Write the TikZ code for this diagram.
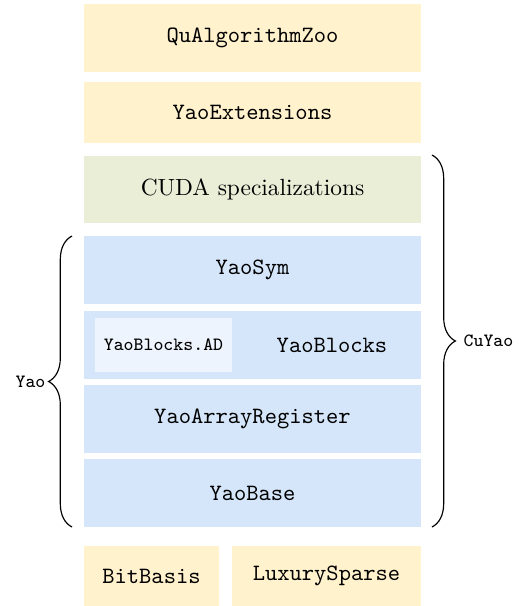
\documentclass[tikz,border=0pt]{standalone}
\usetikzlibrary{decorations.pathreplacing}
\definecolor{ylw}{RGB}{255,242,204}
\definecolor{blu}{RGB}{213,230,250}
\definecolor{grn}{RGB}{234,238,215}
\definecolor{adb}{RGB}{238,244,253}
\newcommand\pxu{0.4274pt}
\begin{document}
\begin{tikzpicture}[x=0.4274pt,y=-0.4274pt,
  box/.style={inner sep=0pt,outer sep=0pt,font=\ttfamily},
  ybox/.style={box,fill=ylw},
  bbox/.style={box,fill=blu},
  gbox/.style={box,fill=grn},
  abox/.style={box,fill=adb,font=\ttfamily\footnotesize},
  lbl/.style={inner sep=0pt,font=\ttfamily\footnotesize},
  brc/.style={decorate,decoration={brace,amplitude=10pt},line width=0.5pt}]
\useasboundingbox (0,0) rectangle (521,606);
\node[ybox,minimum width=337*\pxu,minimum height=68*\pxu] (zoo) at (252.5,38) {QuAlgorithmZoo};
\node[ybox,minimum width=337*\pxu,minimum height=61*\pxu] (ext) at (252.5,112.5) {YaoExtensions};
\node[gbox,font=\rmfamily,minimum width=337*\pxu,minimum height=67*\pxu] (cuda) at (252.5,189.5) {CUDA specializations};
\node[bbox,minimum width=337*\pxu,minimum height=68*\pxu] (sym) at (252.5,270) {YaoSym};
\node[bbox,minimum width=337*\pxu,minimum height=68*\pxu] (blk) at (252.5,345) {};
\node[abox,minimum width=137*\pxu,minimum height=54*\pxu] (ad) at (163.5,345) {YaoBlocks.AD};
\node[box] (blkt) at (332,345) {YaoBlocks};
\node[bbox,minimum width=337*\pxu,minimum height=68*\pxu] (arr) at (252.5,419) {YaoArrayRegister};
\node[bbox,minimum width=337*\pxu,minimum height=68*\pxu] (base) at (252.5,493) {YaoBase};
\node[ybox,minimum width=135*\pxu,minimum height=60*\pxu] (bit) at (151.5,576) {BitBasis};
\node[ybox,minimum width=189*\pxu,minimum height=60*\pxu] (lux) at (326.5,576) {LuxurySparse};
\coordinate (yb) at (72,527);
\coordinate (yt) at (72,236);
\coordinate (cb) at (432,527);
\coordinate (ct) at (432,155);
\draw[brc] (yb) -- (yt);
\draw[brc] (ct) -- (cb);
\node[lbl] (yao) at (30.5,381.5) {Yao};
\node[lbl] (cuyao) at (488.5,341) {CuYao};
\end{tikzpicture}
\end{document}
